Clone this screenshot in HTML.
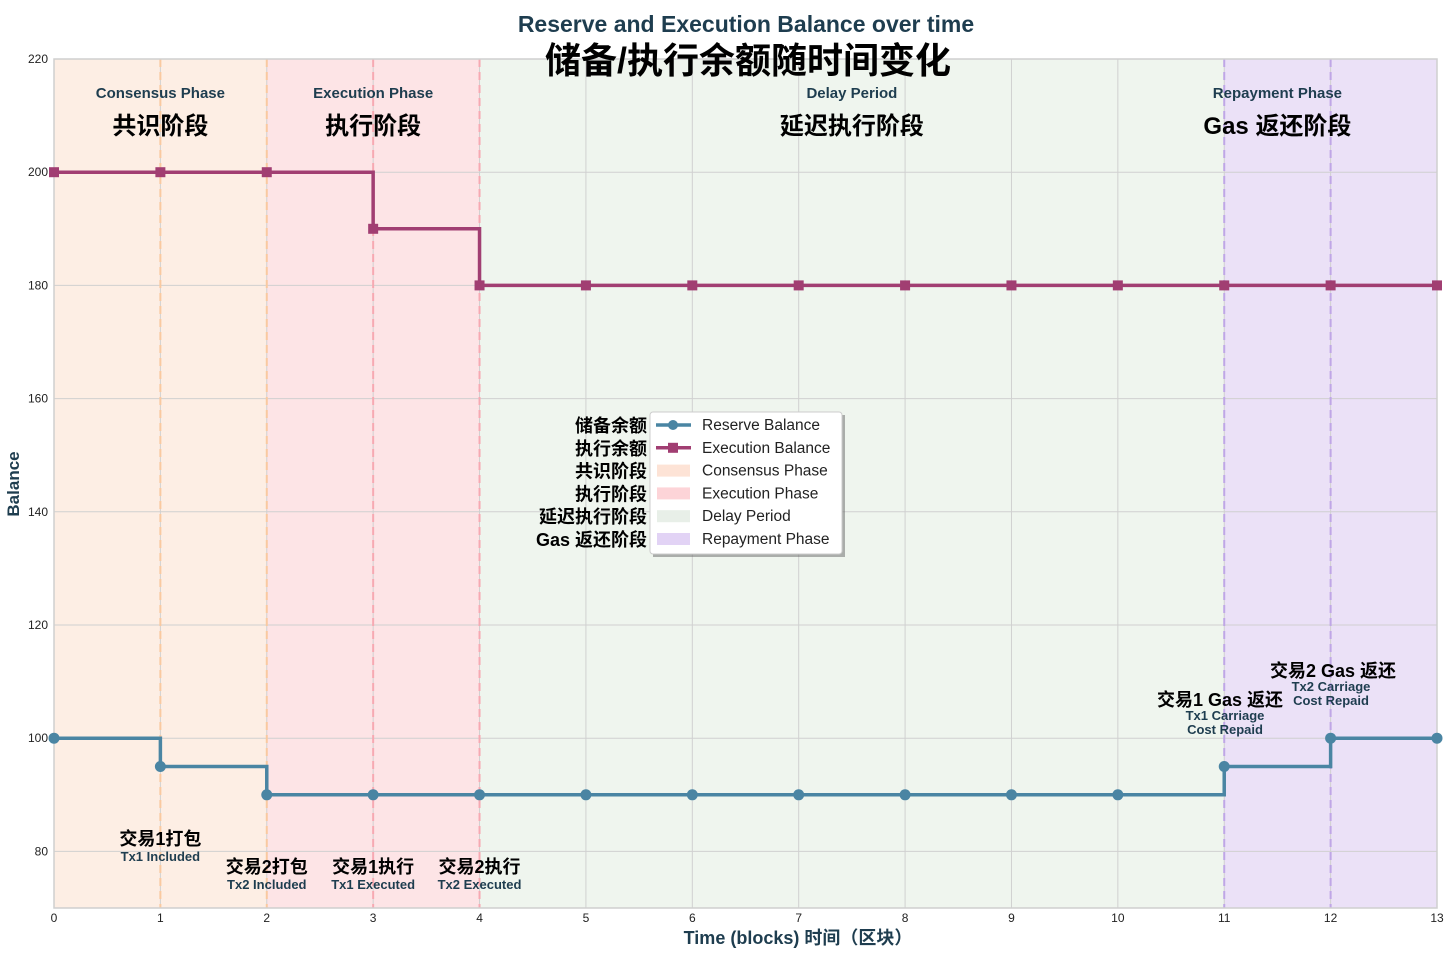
<!DOCTYPE html>
<html><head><meta charset="utf-8">
<style>
body{margin:0;background:#fff;}
svg{display:block;font-family:"Liberation Sans","Noto Sans CJK SC",sans-serif;}
</style></head>
<body>
<svg id="chart" width="1456" height="963"></svg>
<script>
const xs=[0,1,2,3,4,5,6,7,8,9,10,11,12,13];
const reserve=[100,95,90,90,90,90,90,90,90,90,90,95,100,100];
const execution=[200,200,200,190,180,180,180,180,180,180,180,180,180,180];
const yTicks=[80,100,120,140,160,180,200,220];
const phases=[
 {name:'consensus-phase',x0:0,x1:2,lx:1,color:'#fdeee4',en:'Consensus Phase',zh:'共识阶段'},
 {name:'execution-phase',x0:2,x1:4,lx:3,color:'#fde4e6',en:'Execution Phase',zh:'执行阶段'},
 {name:'delay-period',x0:4,x1:11,lx:7.5,color:'#eff5ee',en:'Delay Period',zh:'延迟执行阶段'},
 {name:'repayment-phase',x0:11,x1:13,lx:11.5,color:'#ebe1f7',en:'Repayment Phase',zh:'Gas 返还阶段'}];
const vlines=[[1,'#f9c9a0'],[2,'#f9c9a0'],[3,'#f6a9b2'],[4,'#f6a9b2'],[11,'#bfa6e6'],[12,'#bfa6e6']];
const NS='http://www.w3.org/2000/svg';
const svg=document.getElementById('chart');
const L=54,R=1437,T=59,B=908,xmin=0,xmax=13,ymin=70,ymax=220;
const X=v=>L+(v-xmin)/(xmax-xmin)*(R-L);
const Y=v=>B-(v-ymin)/(ymax-ymin)*(B-T);
function el(tag,attrs,text){const e=document.createElementNS(NS,tag);for(const k in attrs)e.setAttribute(k,attrs[k]);if(text!==undefined)e.textContent=text;svg.appendChild(e);return e;}
phases.forEach(p=>{
 const r=el('rect',{x:X(p.x0),y:T,width:X(p.x1)-X(p.x0),height:B-T,fill:p.color});
 
 
});
yTicks.forEach(v=>{
 const g=el('line',{x1:L,x2:R,y1:Y(v),y2:Y(v),stroke:'#d0d0d0','stroke-width':1});
 
 
 const t=el('text',{x:L-6,y:Y(v)+4,'text-anchor':'end','font-size':12,fill:'#222'},v);
 
 
});
xs.forEach(v=>{
 const g=el('line',{x1:X(v),x2:X(v),y1:T,y2:B,stroke:'#d0d0d0','stroke-width':1});
 
 
 const t=el('text',{x:X(v),y:B+14,'text-anchor':'middle','font-size':12,fill:'#222'},v);
 
 
});
vlines.forEach(([v,c])=>{
 const l=el('line',{x1:X(v),x2:X(v),y1:T,y2:B,stroke:c,'stroke-width':2,'stroke-dasharray':'8,5'});
 
 
});
const fr=el('rect',{x:L,y:T,width:R-L,height:B-T,fill:'none',stroke:'#cfcfcf','stroke-width':1.5});


function step(vals,color,name,marker){
 let d='M'+X(xs[0])+','+Y(vals[0]);
 for(let i=1;i<xs.length;i++){d+=' H'+X(xs[i])+' V'+Y(vals[i]);}
 const p=el('path',{d:d,fill:'none',stroke:color,'stroke-width':3.5});
 
 
 xs.forEach((x,i)=>{
  let m;
  if(marker==='o') m=el('circle',{cx:X(x),cy:Y(vals[i]),r:5.5,fill:color});
  else m=el('rect',{x:X(x)-5,y:Y(vals[i])-5,width:10,height:10,fill:color});
  
  
 });
}
step(reserve,'#4a85a3','reserve-balance','o');
step(execution,'#a13e72','execution-balance','s');
phases.forEach(p=>{
 const cx=X(p.lx);
 const a=el('text',{x:cx,y:98,'text-anchor':'middle','font-size':15,'font-weight':'bold',fill:'#1e3d4f'},p.en);
 
 
 const b=el('text',{x:cx,y:134,'text-anchor':'middle','font-size':24,'font-weight':'bold',fill:'#000'},p.zh);
 
 
});
const ann=[[1,845,861,'交易1打包','Tx1 Included'],[2,873,889,'交易2打包','Tx2 Included'],[3,873,889,'交易1执行','Tx1 Executed'],[4,873,889,'交易2执行','Tx2 Executed']];
ann.forEach(a=>{
 const t1=el('text',{x:X(a[0]),y:a[1],'text-anchor':'middle','font-size':18,'font-weight':'bold',fill:'#000'},a[3]);
 
 
 const t2=el('text',{x:X(a[0]),y:a[2],'text-anchor':'middle','font-size':13,'font-weight':'bold',fill:'#1e3d4f'},a[4]);
 
 
});
[[1220,706,'交易1 Gas 返还'],[1333,677,'交易2 Gas 返还']].forEach(a=>{
 const t=el('text',{x:a[0],y:a[1],'text-anchor':'middle','font-size':18,'font-weight':'bold',fill:'#000'},a[2]);
 
 
});
[[1225,720,'Tx1 Carriage'],[1225,734,'Cost Repaid'],[1331,691,'Tx2 Carriage'],[1331,705,'Cost Repaid']].forEach(a=>{
 const t=el('text',{x:a[0],y:a[1],'text-anchor':'middle','font-size':13,'font-weight':'bold',fill:'#1e3d4f'},a[2]);
 
 
});
let t=el('text',{x:746,y:32,'text-anchor':'middle','font-size':23,'font-weight':'bold',fill:'#1e3d4f'},'Reserve and Execution Balance over time');

t=el('text',{x:748,y:73,'text-anchor':'middle','font-size':36,'font-weight':'bold',fill:'#000'},'储备/执行余额随时间变化');

t=el('text',{x:798,y:944,'text-anchor':'middle','font-size':18,'font-weight':'bold',fill:'#1e3d4f'},'Time (blocks) 时间（区块）');

t=el('text',{x:19,y:484,'text-anchor':'middle','font-size':17,'font-weight':'bold',fill:'#1e3d4f',transform:'rotate(-90 19 484)'},'Balance');

const lg=el('rect',{x:653,y:415,width:192,height:142,fill:'#666',opacity:0.5});

const lb=el('rect',{x:650,y:412,width:192,height:142,fill:'#fff',stroke:'#ccc',rx:3});

const items=[['line','#4a85a3','Reserve Balance','储备余额'],['sq','#a13e72','Execution Balance','执行余额'],['patch','#fde3d6','Consensus Phase','共识阶段'],['patch','#fdd4d8','Execution Phase','执行阶段'],['patch','#e8efe8','Delay Period','延迟执行阶段'],['patch','#e2d3f5','Repayment Phase','Gas 返还阶段']];
items.forEach((it,i)=>{
 const cy=425+i*22.8;
 if(it[0]==='patch'){const p=el('rect',{x:657,y:cy-6,width:33,height:12,fill:it[1]});}
 else{
  const l=el('line',{x1:656,x2:691,y1:cy,y2:cy,stroke:it[1],'stroke-width':3.5});
  const m=it[0]==='line'?el('circle',{cx:673,cy:cy,r:5,fill:it[1]}):el('rect',{x:668,y:cy-5,width:10,height:10,fill:it[1]});
  
 }
 const a=el('text',{x:702,y:cy+5,'font-size':15.5,fill:'#222'},it[2]);
 
 const b=el('text',{x:647,y:cy+7,'text-anchor':'end','font-size':18,'font-weight':'bold',fill:'#000'},it[3]);
 
});
</script>
</body></html>
